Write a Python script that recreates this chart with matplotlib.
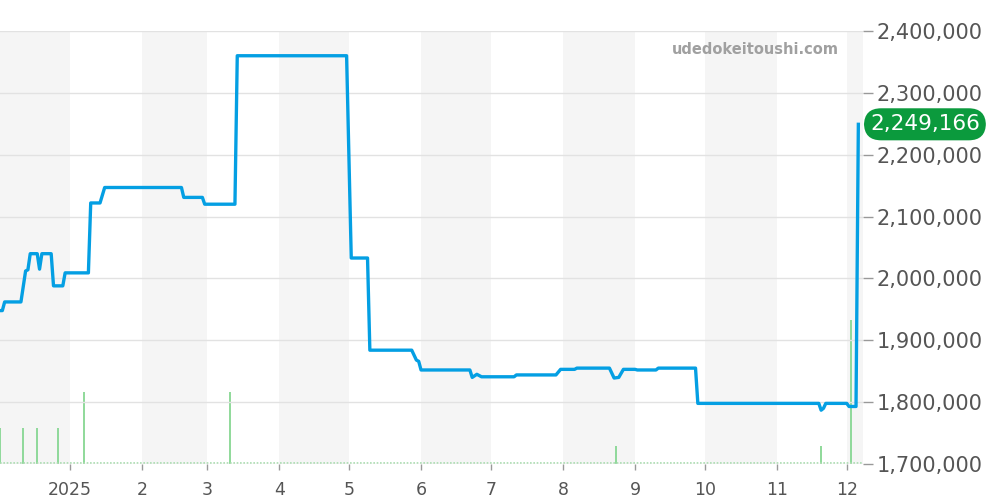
import numpy as np
import pandas as pd
import matplotlib
matplotlib.use("Agg")
import matplotlib.pyplot as plt
import matplotlib.dates as mdates
import matplotlib.transforms as mtransforms
from matplotlib.ticker import FuncFormatter

# price history (step-like)
price_dates = [
    "2024-12-02", "2024-12-03", "2024-12-04", "2024-12-11", "2024-12-13", "2024-12-14",
    "2024-12-15", "2024-12-18", "2024-12-19", "2024-12-20", "2024-12-24", "2024-12-25",
    "2024-12-29", "2024-12-30", "2025-01-09", "2025-01-10", "2025-01-14", "2025-01-16",
    "2025-02-18", "2025-02-19", "2025-02-27", "2025-02-28", "2025-03-13", "2025-03-14",
    "2025-04-30", "2025-05-02", "2025-05-09", "2025-05-10", "2025-05-28", "2025-05-30",
    "2025-05-31", "2025-06-01", "2025-06-22", "2025-06-23", "2025-06-25", "2025-06-27",
    "2025-07-11", "2025-07-12", "2025-07-29", "2025-07-31", "2025-08-06", "2025-08-07",
    "2025-08-21", "2025-08-23", "2025-08-25", "2025-08-27", "2025-09-01", "2025-09-02",
    "2025-09-10", "2025-09-11", "2025-09-27", "2025-09-28", "2025-11-19", "2025-11-20",
    "2025-11-21", "2025-11-22", "2025-12-01", "2025-12-02", "2025-12-05", "2025-12-06",
]
price_values = [
    1948000, 1948000, 1962000, 1962000, 2012000, 2014000,
    2040000, 2040000, 2015000, 2040000, 2040000, 1988000,
    1988000, 2009000, 2009000, 2122000, 2122000, 2147000,
    2147000, 2131000, 2131000, 2120000, 2120000, 2360000,
    2360000, 2033000, 2033000, 1884000, 1884000, 1868000,
    1866000, 1852000, 1852000, 1840000, 1845000, 1841000,
    1841000, 1844000, 1844000, 1853000, 1853000, 1855000,
    1855000, 1839000, 1840000, 1853000, 1853000, 1852000,
    1852000, 1855000, 1855000, 1798000, 1798000, 1787000,
    1790000, 1798000, 1798000, 1793000, 1793000, 2249166,
]

# trade volume
volume_dates = ["2024-12-02", "2024-12-12", "2024-12-18", "2024-12-27", "2025-01-07",
                "2025-03-11", "2025-08-24", "2025-11-20", "2025-12-03"]
volume_counts = [2, 2, 2, 2, 4, 4, 1, 1, 8]

shaded_months = ["2024-12", "2025-02", "2025-04", "2025-06", "2025-08", "2025-10", "2025-12"]

x_start, x_end = pd.Timestamp("2024-12-02"), pd.Timestamp("2025-12-08")

price_dates = pd.to_datetime(price_dates)
volume_dates = pd.to_datetime(volume_dates)

fig = plt.figure(figsize=(10, 5), dpi=100)
ax_v = fig.add_axes([0.0, 0.072, 0.863, 0.866])
ax = ax_v.twinx()

# month shading
for m in shaded_months:
    s = pd.Timestamp(m + "-01")
    e = s + pd.offsets.MonthBegin(1)
    ax_v.axvspan(s, e, color="#f5f5f5", lw=0, zorder=0)

# volume
ax_v.vlines(volume_dates, 0, volume_counts, color="#8fd99a", lw=1.4, zorder=2)
ax_v.axhline(0.08, color="#a8dcae", lw=1.2, ls=(0, (1, 1)), zorder=2)
ax_v.set_ylim(0, 24)
ax_v.set_yticks([])
ax_v.set_xlim(x_start, x_end)

# price
ax.plot(price_dates, price_values, color="#049fe3", lw=2.4, solid_joinstyle="round", zorder=5)
ax.set_ylim(1700000, 2400000)
ax.set_yticks(np.arange(1700000, 2400001, 100000))
ax.yaxis.set_major_formatter(FuncFormatter(lambda v, p: f"{int(v):,}"))
ax.grid(axis="y", color="#e2e2e2", lw=1)
ax.set_axisbelow(True)
ax.tick_params(axis="y", length=7, width=1, color="#999999", pad=3,
               labelcolor="#555555", labelsize=15)

for a in (ax, ax_v):
    for sp in a.spines.values():
        sp.set_visible(False)

ax_v.xaxis.set_major_locator(mdates.MonthLocator())
ax_v.xaxis.set_major_formatter(FuncFormatter(
    lambda v, p: (lambda d: str(d.year) if d.month == 1 else str(d.month))(mdates.num2date(v))))
ax_v.tick_params(axis="x", length=4, width=1, color="#999999", pad=8,
                 labelcolor="#555555", labelsize=12.5)

# last price label
trans = mtransforms.blended_transform_factory(ax.transAxes, ax.transData)
ax.annotate(f"{price_values[-1]:,}", xy=(1.0, price_values[-1]), xycoords=trans,
            xytext=(7, 0), textcoords="offset pixels", ha="left", va="center",
            fontsize=15.5, color="white", annotation_clip=False,
            bbox=dict(boxstyle="round,pad=0.28,rounding_size=0.8", fc="#0b9a3d", ec="none"))

# watermark
ax.text(0.972, 0.975, "udedokeitoushi.com", transform=ax.transAxes, ha="right", va="top",
        fontsize=10.5, fontweight="bold", color="#a0a0a0")

fig.savefig("out.png", dpi=100)
